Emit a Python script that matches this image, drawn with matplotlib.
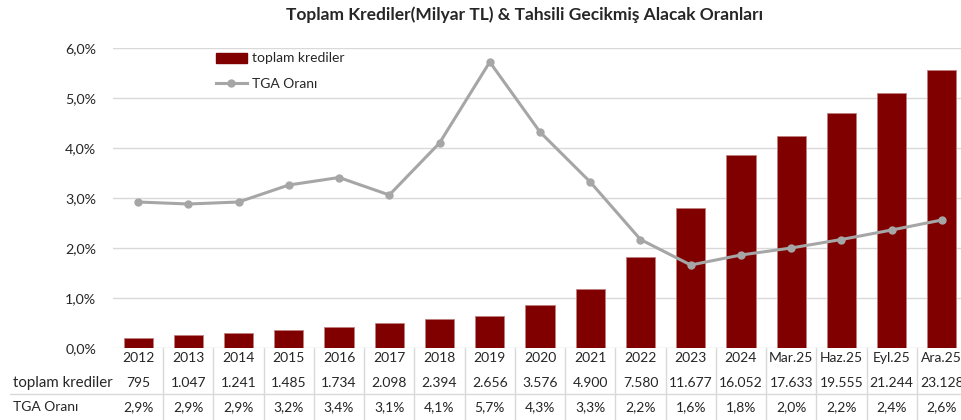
import matplotlib
matplotlib.use("Agg")
import matplotlib.pyplot as plt
from matplotlib.lines import Line2D
from matplotlib.patches import Patch
import matplotlib.transforms as mtransforms

categories = ["2012", "2013", "2014", "2015", "2016", "2017", "2018", "2019", "2020",
              "2021", "2022", "2023", "2024", "Mar.25", "Haz.25", "Eyl.25", "Ara.25"]
toplam_krediler = [795, 1047, 1241, 1485, 1734, 2098, 2394, 2656, 3576, 4900, 7580,
                   11677, 16052, 17633, 19555, 21244, 23128]
tga_orani = [2.9, 2.9, 2.9, 3.2, 3.4, 3.1, 4.1, 5.7, 4.3, 3.3, 2.2, 1.6, 1.8, 2.0, 2.2, 2.4, 2.6]
tga_line = [2.92, 2.88, 2.92, 3.26, 3.41, 3.06, 4.10, 5.72, 4.32, 3.32, 2.17, 1.66, 1.86, 2.00, 2.17, 2.36, 2.56]
pct_ticks = [0, 1, 2, 3, 4, 5, 6]

plt.rcParams['font.family'] = ['Lato', 'DejaVu Sans']
TXT = '#262626'
BAR = '#800000'
LINE = '#A6A6A6'
FS = 10

W, H = 962, 420
fig = plt.figure(figsize=(W / 100, H / 100), dpi=100)
left, right = 113 / W, 967 / W
bottom, top = 1 - 348 / H, 1 - 48 / H
ax = fig.add_axes([left, bottom, right - left, top - bottom])
x = list(range(len(categories)))
ax.set_xlim(-0.5, len(categories) - 0.5)
ax.set_ylim(0, 6)
ax.set_yticks(pct_ticks)
ax.set_yticklabels([f"{t:.1f}".replace('.', ',') + "%" for t in pct_ticks], fontsize=10.3, color=TXT)
ax.tick_params(axis='y', length=0, pad=12)
ax.tick_params(axis='x', length=0, labelbottom=False)
ax.grid(axis='y', color='#D9D9D9', linewidth=1)
for s in ax.spines.values():
    s.set_visible(False)

ax2 = ax.twinx()
ax2.set_ylim(0, 25000)
bars = ax2.bar(x, toplam_krediler, width=0.58, color=BAR, edgecolor='#C08080', linewidth=0.6, zorder=2)
ax2.set_yticks([])
for s in ax2.spines.values():
    s.set_visible(False)

ax3 = ax.twinx()
ax3.set_ylim(0, 6)
ax3.plot(x, tga_line, color=LINE, linewidth=2.2, marker='o', markersize=5, zorder=3)
ax3.set_yticks([])
for s in ax3.spines.values():
    s.set_visible(False)

fig.text(525 / W, 1 - 15 / H, "Toplam Krediler(Milyar TL) & Tahsili Gecikmiş Alacak Oranları",
         ha='center', va='center', fontsize=12.5, fontweight='bold', color=TXT)

handles = [Patch(facecolor=BAR, edgecolor=BAR),
           Line2D([0], [0], color=LINE, linewidth=2.2, marker='o', markersize=5)]
fig.legend(handles, ["toplam krediler", "TGA Oranı"], loc='upper left',
           bbox_to_anchor=(203 / W, 1 - 40 / H), frameon=False, fontsize=FS,
           handlelength=2.3, handleheight=0.7, labelspacing=0.95, handletextpad=0.3,
           labelcolor=TXT)

# data table
trans = mtransforms.blended_transform_factory(ax.transData, fig.transFigure)
y_cat, y_val, y_tga = 1 - 358 / H, 1 - 383 / H, 1 - 407 / H
for i, c in enumerate(categories):
    ax.text(i, y_cat, c, transform=trans, ha='center', va='center', fontsize=FS, color=TXT, clip_on=False)
    ax.text(i, y_val, f"{toplam_krediler[i]:,}".replace(',', '.'), transform=trans,
            ha='center', va='center', fontsize=FS, color=TXT, clip_on=False)
    ax.text(i, y_tga, f"{tga_orani[i]:.1f}".replace('.', ',') + "%", transform=trans,
            ha='center', va='center', fontsize=FS, color=TXT, clip_on=False)
fig.text(13 / W, y_val, "toplam krediler", ha='left', va='center', fontsize=FS * 1.08, color=TXT)
fig.text(13 / W, y_tga, "TGA Oranı", ha='left', va='center', fontsize=FS, color=TXT)

for i in range(len(categories)):
    ax.add_line(Line2D([i + 0.5, i + 0.5], [1 - 348 / H, 0], transform=trans,
                       color='#D9D9D9', linewidth=1, clip_on=False))
fig.add_artist(Line2D([10 / W, 1], [1 - 394 / H, 1 - 394 / H], color='#D9D9D9', linewidth=1))

fig.savefig("out.png", dpi=100)
